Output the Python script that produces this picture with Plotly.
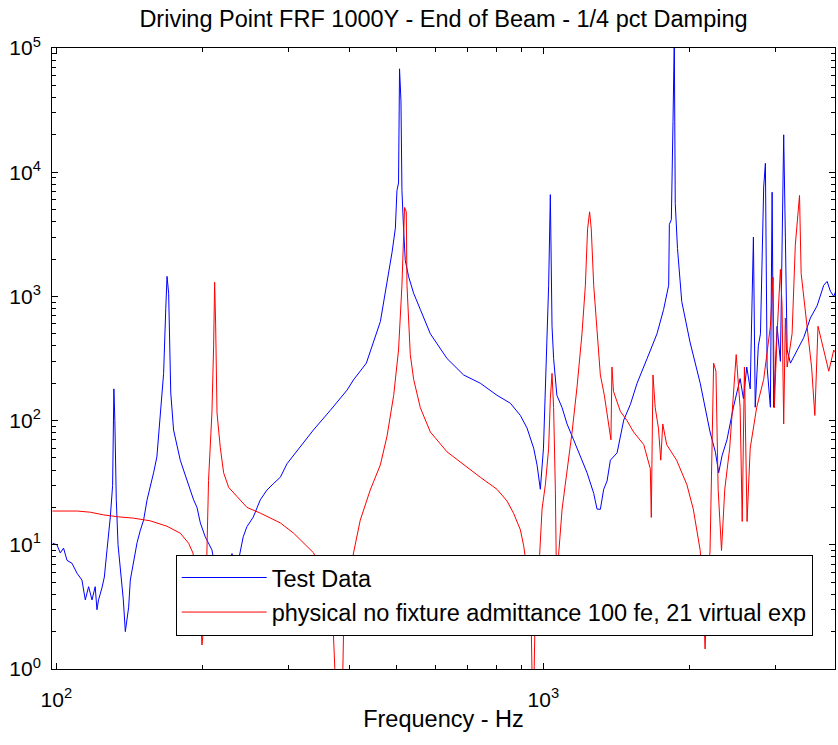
import plotly.graph_objects as go

title_text = "Driving Point FRF 1000Y - End of Beam - 1/4 pct Damping"
x_title = "Frequency - Hz"
series_names = ["Test Data", "physical no fixture admittance 100 fe, 21 virtual exp"]

test_freq = [98.3, 100.3, 101.9, 103.5, 105.2, 107.7, 110.3, 112.9, 114.7, 116.5,
             118.4, 120.2, 121.2, 122.1, 124.1, 125.5, 127.1, 129.1, 130.5, 131.3,
             131.9, 132.8, 133.9, 135.3, 137.3, 138.6, 139.9, 140.8, 141.9, 144.1,
             146.5, 148.8, 151.1, 153.6, 155.9, 158.4, 160.9, 163.5, 166.1, 167.8,
             168.8, 170.1, 171.0, 171.8, 174.1, 176.9, 179.7, 182.5, 185.5, 188.4,
             191.4, 194.5, 197.6, 202.2, 205.1, 208.7, 210.0, 217.1, 222, 225.5,
             229.5, 234, 238.6, 242.0, 246.3, 253.7, 262.3, 270.7, 279.0, 288.4,
             297.7, 306.7, 316.9, 337.2, 365.3, 395.3, 407.3, 433.1, 462.8, 473.9,
             489.1, 496.8, 500.5, 504.3, 506.7, 510.1, 512.5, 516.4, 520.6, 529.0,
             541.6, 559.0, 586.1, 634.3, 686.0, 742.2, 803.1, 855.7, 897.1, 925.9,
             955.2, 970.6, 985.9, 1000.6, 1014.3, 1025.4, 1033.6, 1041.9, 1049.7, 1066.0,
             1092.7, 1118.5, 1153.9, 1191.3, 1229.6, 1268.7, 1288.9, 1309.3, 1330.1, 1351.4,
             1372.9, 1417.2, 1462.2, 1509.1, 1557.6, 1632.6, 1711.2, 1765.8, 1808.5, 1814.4,
             1831.5, 1845.9, 1857.0, 1865.6, 1885.4, 1923.8, 2000.1, 2099.2, 2199.2, 2255.8,
             2290.8, 2327.1, 2382.2, 2456.2, 2535.4, 2575.2, 2615.8, 2659.0, 2699.5, 2722.9,
             2763, 2791, 2834, 2857, 2880, 2925, 2949, 2971, 3019, 3067,
             3115, 3140, 3166, 3216, 3319, 3424, 3534, 3648, 3764, 3825,
             3885, 3947, 4000]
test_mag = [10.3, 10, 8.6, 9.4, 7.5, 7.1, 5.9, 5.2, 3.6, 4.6,
            3.6, 4.6, 3.0, 3.6, 4.5, 5.5, 9.1, 16.7, 30, 180,
            100, 23, 10, 6.6, 3.6, 2.0, 2.8, 3.15, 5.2, 7.5,
            10.4, 13.1, 15.8, 23, 29, 38, 51, 107, 240, 800,
            1450, 1060, 300, 167, 84, 62, 48, 40, 33, 28,
            23, 20, 15, 11.6, 10.3, 9.1, 8, 6, 5, 6.5,
            8.5, 6, 8.6, 11.6, 14, 16.7, 23, 27.6, 31, 35,
            45, 52, 61, 84, 121, 176, 212, 290, 627, 1060,
            2270, 3540, 7100, 8200, 68000, 37500, 7100, 3540, 1950, 1440,
            1060, 785, 500, 316, 233, 200, 160, 138, 110, 87,
            60, 44, 28, 60, 270, 1230, 6600, 575, 316, 160,
            127, 94, 70, 52, 38, 26, 19.4, 19.3, 28, 32.6,
            48, 55, 101, 135, 200, 315, 500, 785, 1230, 3800,
            4150, 25600, 120000, 5600, 2430, 910, 430, 200, 81, 55.6,
            38, 52, 70, 128, 218, 150, 270, 180, 3000, 128,
            400, 500, 7600, 11800, 270, 128, 6900, 128, 575, 300,
            20000, 3000, 370, 290, 370, 465, 670, 840, 1230, 1320,
            1100, 1000, 1150]

model_freq = [98.2, 110.4, 117.4, 125.1, 134.0, 143.9, 155.9, 168.8, 179.7, 186.9,
              190.8, 194.8, 198.0, 199.1, 200.8, 203.8, 205.4, 208.7, 210.4, 211.4,
              212.4, 213.8, 217.1, 220.6, 225.9, 235.0, 246.3, 262.3, 288.4, 307.1,
              327.1, 337.6, 356.8, 370.5, 375.8, 381.1, 386.6, 388.9, 395.3, 407.6,
              420.8, 441.1, 462.8, 477.6, 492.9, 504.3, 512.5, 516.4, 518.9, 523.1,
              524.8, 533.1, 541.6, 559.0, 586.1, 634.3, 686.0, 742.2, 803.1, 842.4,
              869.0, 897.1, 911.3, 927.2, 944.8, 952.5, 960.6, 972.0, 982.7, 993.9,
              1009.5, 1025.4, 1033.6, 1041.9, 1049.7, 1058.4, 1065.9, 1075.0, 1092.7, 1118.5,
              1145.5, 1172.7, 1200.3, 1219.8, 1232.6, 1244.4, 1254.2, 1268.7, 1288.9, 1309.3,
              1334.2, 1367.6, 1376.5, 1383.0, 1393.2, 1438.9, 1484.9, 1532.1, 1607.5, 1658.0,
              1665.9, 1679.0, 1697.0, 1723.0, 1742.1, 1758.5, 1791.3, 1877.7, 1971.5, 2031.5,
              2099.2, 2128.5, 2148.1, 2168.4, 2199.2, 2236.8, 2261.3, 2285.0, 2321.7, 2357.8,
              2413.0, 2488.4, 2535.4, 2560.3, 2587.3, 2619.5, 2659.0, 2741.0, 2834, 2925,
              2962, 2980, 3019, 3067, 3091, 3115, 3140, 3166, 3241, 3291,
              3357, 3383, 3473, 3554, 3609, 3664, 3764, 3855, 3947, 4000]
model_mag = [18.7, 18.7, 18.3, 17.4, 16.8, 16.4, 15.6, 14.1, 12.4, 10.3,
             8.6, 5, 2.5, 1.56, 2.2, 8.6, 33, 115, 400, 1300,
             600, 115, 61, 38, 29, 24.3, 20, 18, 15, 12.4,
             9.7, 8.6, 5, 2, 0.5, 0.3, 0.6, 2.0, 4.1, 8.6,
             15.8, 27.6, 44, 75, 160, 370, 1230, 3050, 5200, 4800,
             1230, 340, 215, 127, 81, 56, 44, 35, 28, 22.5,
             17.9, 13.2, 9.8, 6, 2, 0.3, 2, 5, 8.4, 19.4,
             30.4, 60, 150, 240, 127, 28, 3, 8.4, 19.4, 38,
             81, 187, 500, 1230, 3500, 4800, 3500, 1230, 575, 233,
             160, 81, 70, 270, 172, 119, 100, 81, 64, 41,
             16.6, 233, 127, 87, 48, 94, 64, 48, 30.4, 19.4,
             9, 4, 1.45, 4, 9, 290, 250, 28, 9, 28,
             60, 340, 127, 15.4, 270, 15.4, 60, 127, 215, 575,
             1430, 127, 500, 1650, 840, 94, 670, 270, 500, 2600,
             6500, 1530, 575, 270, 110, 575, 370, 250, 370, 340]

x_tick_vals = [100, 1000]
x_tick_text = ["10<sup>2</sup>", "10<sup>3</sup>"]
x_minor_vals = [200, 300, 400, 500, 600, 700, 800, 900, 2000, 3000]
y_tick_vals = [1, 10, 100, 1000, 10000, 100000]
y_tick_text = ["10<sup>0</sup>", "10<sup>1</sup>", "10<sup>2</sup>",
               "10<sup>3</sup>", "10<sup>4</sup>", "10<sup>5</sup>"]
y_minor_vals = [m * 10 ** e for e in range(0, 5) for m in range(2, 10)]

FONT = "Liberation Sans, Arial, Helvetica, sans-serif"
TEXT_SIZE = 23.5

fig = go.Figure()
fig.add_trace(go.Scatter(x=test_freq, y=test_mag, mode="lines", name=series_names[0],
                         legendgroup="a", line=dict(color="#0000FF", width=1)))
fig.add_trace(go.Scatter(x=model_freq, y=model_mag, mode="lines", name=series_names[1],
                         legendgroup="b", line=dict(color="#FF0000", width=1)))

axis_common = dict(
    showline=True, linecolor="black", linewidth=1, mirror="ticks",
    ticks="inside", ticklen=6, tickcolor="black", tickwidth=1,
    showgrid=False, zeroline=False, automargin=False,
    tickfont=dict(family=FONT, size=21, color="black"),
)

fig.update_xaxes(type="log", range=[1.9912, 3.5988],
                 tickmode="array", tickvals=x_tick_vals, ticktext=x_tick_text,
                 minor=dict(tickmode="array", tickvals=x_minor_vals, ticks="inside",
                            ticklen=4, tickcolor="black", showgrid=False),
                 ticklabelstandoff=12,
                 title=dict(text=x_title, font=dict(family=FONT, size=TEXT_SIZE, color="black"),
                            standoff=0),
                 **axis_common)
fig.update_yaxes(type="log", range=[0, 5],
                 tickmode="array", tickvals=y_tick_vals, ticktext=y_tick_text,
                 minor=dict(tickmode="array", tickvals=y_minor_vals, ticks="inside",
                            ticklen=4, tickcolor="black", showgrid=False),
                 ticklabelstandoff=6,
                 **axis_common)

fig.update_layout(
    width=838, height=745,
    margin=dict(l=52, r=3, t=48, b=76),
    paper_bgcolor="white", plot_bgcolor="white",
    font=dict(family=FONT, size=TEXT_SIZE, color="black"),
    title=dict(text=title_text, x=0.5, xref="paper", xanchor="center",
               y=1 - 19 / 745, yref="container", yanchor="middle",
               font=dict(family=FONT, size=TEXT_SIZE, color="black")),
    showlegend=True,
    legend=dict(x=0.158, y=0.184, xanchor="left", yanchor="top",
                bgcolor="white", bordercolor="black", borderwidth=1,
                font=dict(family=FONT, size=TEXT_SIZE, color="black"),
                traceorder="grouped", tracegroupgap=1, itemwidth=85),
)

fig.write_html("out.html",
               config={"displayModeBar": False},
               post_script="document.body.style.margin='0';document.body.style.overflow='hidden';")
